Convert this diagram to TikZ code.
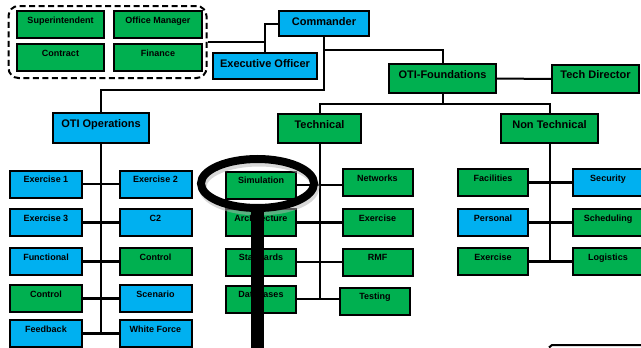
\documentclass[tikz,border=0pt]{standalone}
\usepackage{fontspec}
\setmainfont{Liberation Sans}
\definecolor{orgblue}{RGB}{0,176,240}
\definecolor{orggreen}{RGB}{0,176,80}
\tikzset{
	unit/.style={draw, line width=2pt, inner sep=1pt, font=\bfseries\fontsize{9}{10}\selectfont, text height=7pt, text depth=9.4pt, minimum width=72pt, minimum height=27pt},
	head/.style={unit, font=\bfseries\fontsize{11}{12}\selectfont, text height=8pt, text depth=9pt, minimum height=29pt},
	bl/.style={fill=orgblue}, gr/.style={fill=orggreen},
	link/.style={line width=2pt},
	rung/.style={line width=2.6pt},
}
\begin{document}
\begin{tikzpicture}[x=1pt, y=-1pt]
	\useasboundingbox (0,0) rectangle (641,348);
	\clip (0,0) rectangle (641,348);
	%staff group
	\node[draw, line width=2pt, dash pattern=on 6pt off 3.5pt, rounded corners=10pt, minimum width=198pt, minimum height=72pt] (staff) at (107.5,42) {};
	\node[unit, gr, minimum width=87pt] (supt) at (60.5,24.5) {Superintendent};
	\node[unit, gr, minimum width=88pt] (offm) at (158,24.5) {Office Manager};
	\node[unit, gr, minimum width=87pt] (contr) at (60.5,57.5) {Contract};
	\node[unit, gr, minimum width=88pt] (fin) at (158,57.5) {Finance};
	%command
	\node[head, bl, text depth=4pt, minimum width=90pt, minimum height=25pt] (cmd) at (324,23.5) {Commander};
	\node[head, bl, text depth=6pt, minimum width=104pt, minimum height=26pt] (xo) at (265,66) {Executive Officer};
	\node[head, gr, minimum width=107pt] (otif) at (442.5,78.5) {OTI-Foundations};
	\node[head, gr, minimum width=87pt, minimum height=28pt] (tdir) at (595.5,79) {Tech Director};
	\node[head, bl, minimum width=96pt, minimum height=30pt] (ops) at (101,128) {OTI Operations};
	\node[head, gr, minimum width=83pt] (tech) at (319.5,128.5) {Technical};
	\node[head, gr, minimum width=97pt] (ntech) at (549.5,128.5) {Non Technical};
	%operations
	\node[unit, bl] (ex1) at (46,184) {Exercise 1};
	\node[unit, bl] (ex2) at (155.5,184) {Exercise 2};
	\node[unit, bl] (ex3) at (46,222.5) {Exercise 3};
	\node[unit, bl] (ctwo) at (155.5,222.5) {C2};
	\node[unit, bl] (func) at (46,261.5) {Functional};
	\node[unit, gr] (ctla) at (155.5,261.5) {Control};
	\node[unit, gr] (ctlb) at (46,298.5) {Control};
	\node[unit, bl] (scen) at (155.5,298.5) {Scenario};
	\node[unit, bl] (fdbk) at (46,333.5) {Feedback};
	\node[unit, bl] (wfor) at (155.5,333.5) {White Force};
	%technical
	\node[unit, gr, minimum width=70pt] (sim) at (261,185) {Simulation};
	\node[unit, gr, minimum width=70pt] (netw) at (377.5,182.5) {Networks};
	\node[unit, gr, minimum width=70pt] (arch) at (261,222.5) {Architecture};
	\node[unit, gr, minimum width=70pt] (exrc) at (377.5,222.5) {Exercise};
	\node[unit, gr, minimum width=70pt] (stds) at (261,262) {Standards};
	\node[unit, gr, minimum width=70pt] (rmf) at (377.5,262) {RMF};
	\node[unit, gr, minimum width=70pt] (dbs) at (261,299) {Databases};
	\node[unit, gr, minimum width=70pt] (test) at (375,301) {Testing};
	%non technical
	\node[unit, gr, minimum width=70pt] (fac) at (493,182.5) {Facilities};
	\node[unit, bl, minimum width=70pt] (sec) at (608,182.5) {Security};
	\node[unit, bl, minimum width=70pt] (pers) at (493,222.5) {Personal};
	\node[unit, gr, minimum width=70pt] (sched) at (608,222.5) {Scheduling};
	\node[unit, gr, minimum width=70pt] (exnt) at (493,261.5) {Exercise};
	\node[unit, gr, minimum width=70pt] (logi) at (608,261.5) {Logistics};
	%links
	\draw[link] (staff.east) -- (staff.east -| xo.north);
	\draw[link] (xo.north) |- (cmd.west);
	\draw[link] (cmd.south) -- (cmd.south |- 0,90) -| (ops.north);
	\draw[link] (cmd.south |- 0,50) -| (otif.north);
	\draw[link] (otif.east) -- (tdir.west);
	\draw[link] (otif.south) -- (otif.south |- 0,104) coordinate (fork);
	\draw[link] (tech.north) |- (fork) -| (ntech.north);
	\draw[link] (ops.south) -- (ops.south |- fdbk.east);
	\draw[link] (tech.south) -- (tech.south |- dbs.east);
	\draw[link] (ntech.south) -- (ntech.south |- exnt.east);
	\foreach \l/\r in {ex1/ex2, ex3/ctwo, func/ctla, ctlb/scen, fdbk/wfor, sim/netw, arch/exrc, stds/rmf, dbs/test, fac/sec, pers/sched, exnt/logi}
		\draw[rung] (\l.east) -- (\l.east -| \r.west);
	%magnifier
	\draw[black!30, opacity=.5, line width=8pt] (259,187) ellipse [x radius=56.5pt, y radius=24.5pt];
	\draw[line width=8pt] (257.5,183.5) ellipse [x radius=56.5pt, y radius=24.5pt];
	\fill (251,207) rectangle (264,348);
	\draw[line width=2pt] (549,347.5) -- (552,345) -- (641,345);
\end{tikzpicture}
\end{document}
